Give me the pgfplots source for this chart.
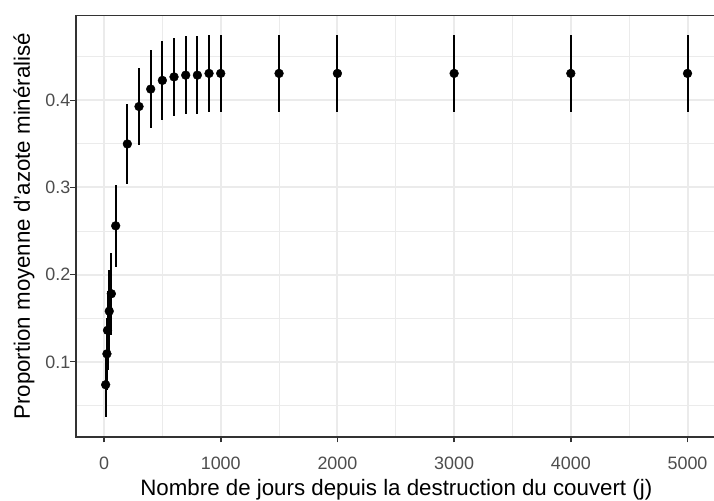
\documentclass[border=0pt]{standalone}
\usepackage{pgfplots}
\pgfplotsset{compat=1.18}
\usepackage{pgfplotstable}
\usepackage{fontspec}
\setmainfont{Liberation Sans}
\definecolor{g30}{HTML}{4D4D4D}
\definecolor{g20}{HTML}{333333}
\definecolor{g92}{HTML}{EBEBEB}
\pgfplotstableread{
x y e
14 0.0735 0.0375
25 0.109 0.041
30 0.136 0.045
45 0.158 0.047
63 0.178 0.047
100 0.256 0.047
200 0.350 0.046
300 0.393 0.044
400 0.413 0.045
500 0.423 0.045
600 0.427 0.045
700 0.429 0.045
800 0.429 0.045
900 0.431 0.044
1000 0.431 0.044
1500 0.431 0.044
2000 0.431 0.044
3000 0.431 0.044
4000 0.431 0.044
5000 0.431 0.044
}\datatable
\begin{document}
\begin{tikzpicture}
\begin{axis}[
  scale only axis, width=640.7pt, height=421.5pt,
  xmin=-240, xmax=5250, ymin=0.0135, ymax=0.4975,
  xtick={0,1000,2000,3000,4000,5000}, ytick={0.1,0.2,0.3,0.4},
  minor xtick={500,1500,2500,3500,4500},
  minor ytick={0.05,0.15,0.25,0.35,0.45},
  grid=both,
  major grid style={g92, line width=2pt},
  minor grid style={g92, line width=1pt},
  axis line style={g20, line width=1.6pt},
  tick align=outside, xtick pos=left, ytick pos=left,
  major tick style={g20, line width=1.6pt}, major tick length=5.5pt,
  minor tick length=0pt,
  scaled x ticks=false, scaled y ticks=false,
  /pgf/number format/assume math mode=true,
  xticklabel style={/pgf/number format/fixed, /pgf/number format/1000 sep={}},
  yticklabel style={/pgf/number format/fixed, /pgf/number format/fixed zerofill, /pgf/number format/precision=1},
  tick label style={font=\fontsize{17.9}{20}\selectfont, text=g30, inner sep=0pt},
  xticklabel style={anchor=base, yshift=-27pt},
  yticklabel style={anchor=base east, xshift=0pt, yshift=-6.4pt},
  xlabel={Nombre de jours depuis la destruction du couvert (j)},
  ylabel={Proportion moyenne d'azote minéralisé},
  label style={font=\fontsize{22.3}{26}\selectfont, text=black, inner sep=0pt},
  xlabel style={at={(axis description cs:0.5,-0.139)}, anchor=base},
  ylabel style={at={(axis description cs:-0.0718,0.5)}, anchor=base},
]
\addplot+[only marks, mark=*, black, mark size=4.4pt,
  mark options={fill=black, draw=black},
  error bars/.cd, y dir=both, y explicit,
  error bar style={line width=2pt, black}, error mark=none]
  table[x=x, y=y, y error=e] {\datatable};
\end{axis}
\pgfresetboundingbox
\path[use as bounding box] ([xshift=-76pt,yshift=-64pt]current axis.south west) rectangle ([xshift=-2.7pt,yshift=15.5pt]current axis.north east);
\end{tikzpicture}
\end{document}
